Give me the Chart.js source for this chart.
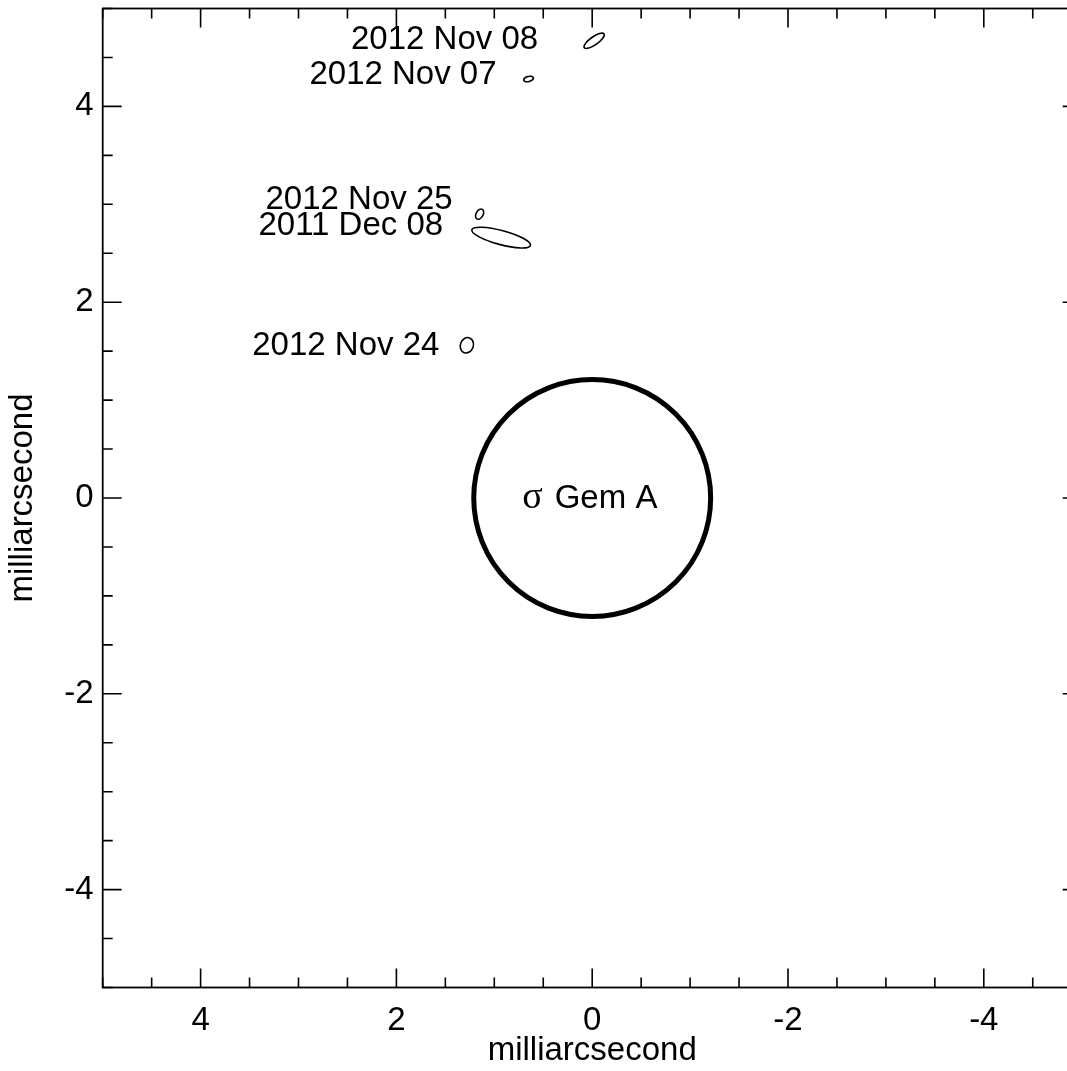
<!DOCTYPE html>
<html>
<head>
<meta charset="utf-8">
<title>sigma Gem relative astrometry</title>
<script src="https://cdn.jsdelivr.net/npm/chart.js@4.4.1/dist/chart.umd.min.js"></script>
<style>
  html, body { margin: 0; padding: 0; background: #fff; overflow: hidden; }
  canvas { display: block; }
</style>
</head>
<body>
<canvas id="orbit" width="1100" height="1071"></canvas>
<script>
// Companion positions relative to sigma Gem A (milliarcseconds)
const epochs    = ['2012 Nov 08', '2012 Nov 07', '2012 Nov 25', '2011 Dec 08', '2012 Nov 24'];
const offsetRA  = [-0.02, 0.65, 1.15, 0.93, 1.28];   // east positive, plotted to the left
const offsetDec = [4.67, 4.28, 2.90, 2.66, 1.56];
// Error ellipses: semi-axes (mas) and tilt (degrees, counter-clockwise on the page)
const errMajor  = [0.123, 0.050, 0.056, 0.310, 0.080];
const errMinor  = [0.041, 0.026, 0.036, 0.072, 0.066];
const errTilt   = [35, 15, 60, -15, 70];

// Primary star disk
const primaryName   = 'Gem A';
const primaryRadius = 1.21;

// Axis ticks
const majorTicksX = [4, 2, 0, -2, -4];
const majorTicksY = [-4, -2, 0, 2, 4];
const minorTicks  = [-5, -4.5, -3.5, -3, -2.5, -1.5, -1, -0.5, 0.5, 1, 1.5, 2.5, 3, 3.5, 4.5, 5];

// Label placement relative to each ellipse centre (pixels): right edge, baseline
const labelShift = [[-56, 8], [-32, 5], [-27, -5], [-58, -2.5], [-27.5, 10]];

const FONT = '"Liberation Sans", Arial, Helvetica, sans-serif';
const FS = 33;

const overlay = {
  id: 'overlay',
  afterDraw(chart) {
    const { ctx, chartArea: a, scales } = chart;
    const xs = scales.x, ys = scales.y;
    const pxPerUnit = Math.abs(xs.getPixelForValue(1) - xs.getPixelForValue(0));
    ctx.save();
    ctx.strokeStyle = '#000';
    ctx.fillStyle = '#000';
    ctx.lineCap = 'butt';

    // frame
    ctx.lineWidth = 1.8;
    ctx.strokeRect(a.left, a.top, a.right - a.left, a.bottom - a.top);

    // inward ticks on all four sides
    ctx.lineWidth = 1.6;
    const tick = (v, len) => {
      const px = xs.getPixelForValue(v);
      const py = ys.getPixelForValue(v);
      ctx.beginPath();
      ctx.moveTo(px, a.bottom); ctx.lineTo(px, a.bottom - len);
      ctx.moveTo(px, a.top);    ctx.lineTo(px, a.top + len);
      ctx.moveTo(a.left, py);   ctx.lineTo(a.left + len, py);
      ctx.moveTo(a.right, py);  ctx.lineTo(a.right - len, py);
      ctx.stroke();
    };
    majorTicksX.forEach(v => tick(v, 19));
    minorTicks.forEach(v => tick(v, 10));

    // primary star disk
    const cx = xs.getPixelForValue(0), cy = ys.getPixelForValue(0);
    ctx.lineWidth = 5;
    ctx.beginPath();
    ctx.arc(cx, cy, primaryRadius * pxPerUnit, 0, Math.PI * 2);
    ctx.stroke();
    ctx.textBaseline = 'alphabetic';
    ctx.textAlign = 'left';
    ctx.font = '38px "Liberation Serif", "Times New Roman", serif';
    ctx.fillText('σ', cx - 70, cy + 9.5);
    ctx.font = FS + 'px ' + FONT;
    ctx.fillText(primaryName, cx - 37.5, cy + 9.5);

    // companion error ellipses with epoch labels
    ctx.lineWidth = 1.6;
    epochs.forEach((label, i) => {
      const ex = xs.getPixelForValue(offsetRA[i]);
      const ey = ys.getPixelForValue(offsetDec[i]);
      ctx.beginPath();
      ctx.ellipse(ex, ey, errMajor[i] * pxPerUnit, errMinor[i] * pxPerUnit,
                  -errTilt[i] * Math.PI / 180, 0, Math.PI * 2);
      ctx.stroke();
      ctx.textAlign = 'right';
      ctx.font = FS + 'px ' + FONT;
      ctx.fillText(label, ex + labelShift[i][0], ey + labelShift[i][1]);
    });
    ctx.restore();
  }
};

const tickFont = { family: FONT, size: FS };
const noEdgePadding = s => {
  s.paddingTop = 0; s.paddingBottom = 0; s.paddingLeft = 0; s.paddingRight = 0;
};

new Chart(document.getElementById('orbit'), {
  type: 'scatter',
  data: {
    datasets: [{
      label: 'companion',
      data: offsetRA.map((x, i) => ({ x, y: offsetDec[i] })),
      pointRadius: 0,
      showLine: false
    }]
  },
  options: {
    responsive: false,
    animation: false,
    events: [],
    layout: { padding: { left: 0, right: 18.3, top: 8.5, bottom: 0 } },
    plugins: { legend: { display: false }, tooltip: { enabled: false } },
    scales: {
      x: {
        type: 'linear',
        reverse: true,
        min: -5, max: 5,
        afterBuildTicks: s => { s.ticks = majorTicksX.map(v => ({ value: v })); },
        afterFit: s => { s.height = 83.5; noEdgePadding(s); },
        grid: { display: false, drawTicks: false },
        border: { display: false },
        ticks: { font: tickFont, color: '#000', padding: 14, maxRotation: 0, autoSkip: false },
        title: { display: true, text: 'milliarcsecond', font: tickFont, color: '#000',
                 padding: { top: 0, bottom: 0 } }
      },
      y: {
        type: 'linear',
        min: -5, max: 5,
        afterBuildTicks: s => { s.ticks = majorTicksY.map(v => ({ value: v })); },
        afterFit: s => { s.width = 102.7; noEdgePadding(s); },
        grid: { display: false, drawTicks: false },
        border: { display: false },
        ticks: { font: tickFont, color: '#000', padding: 9, autoSkip: false },
        title: { display: true, text: 'milliarcsecond', font: tickFont, color: '#000',
                 padding: { top: 3, bottom: 0 } }
      }
    }
  },
  plugins: [overlay]
});
</script>
</body>
</html>
